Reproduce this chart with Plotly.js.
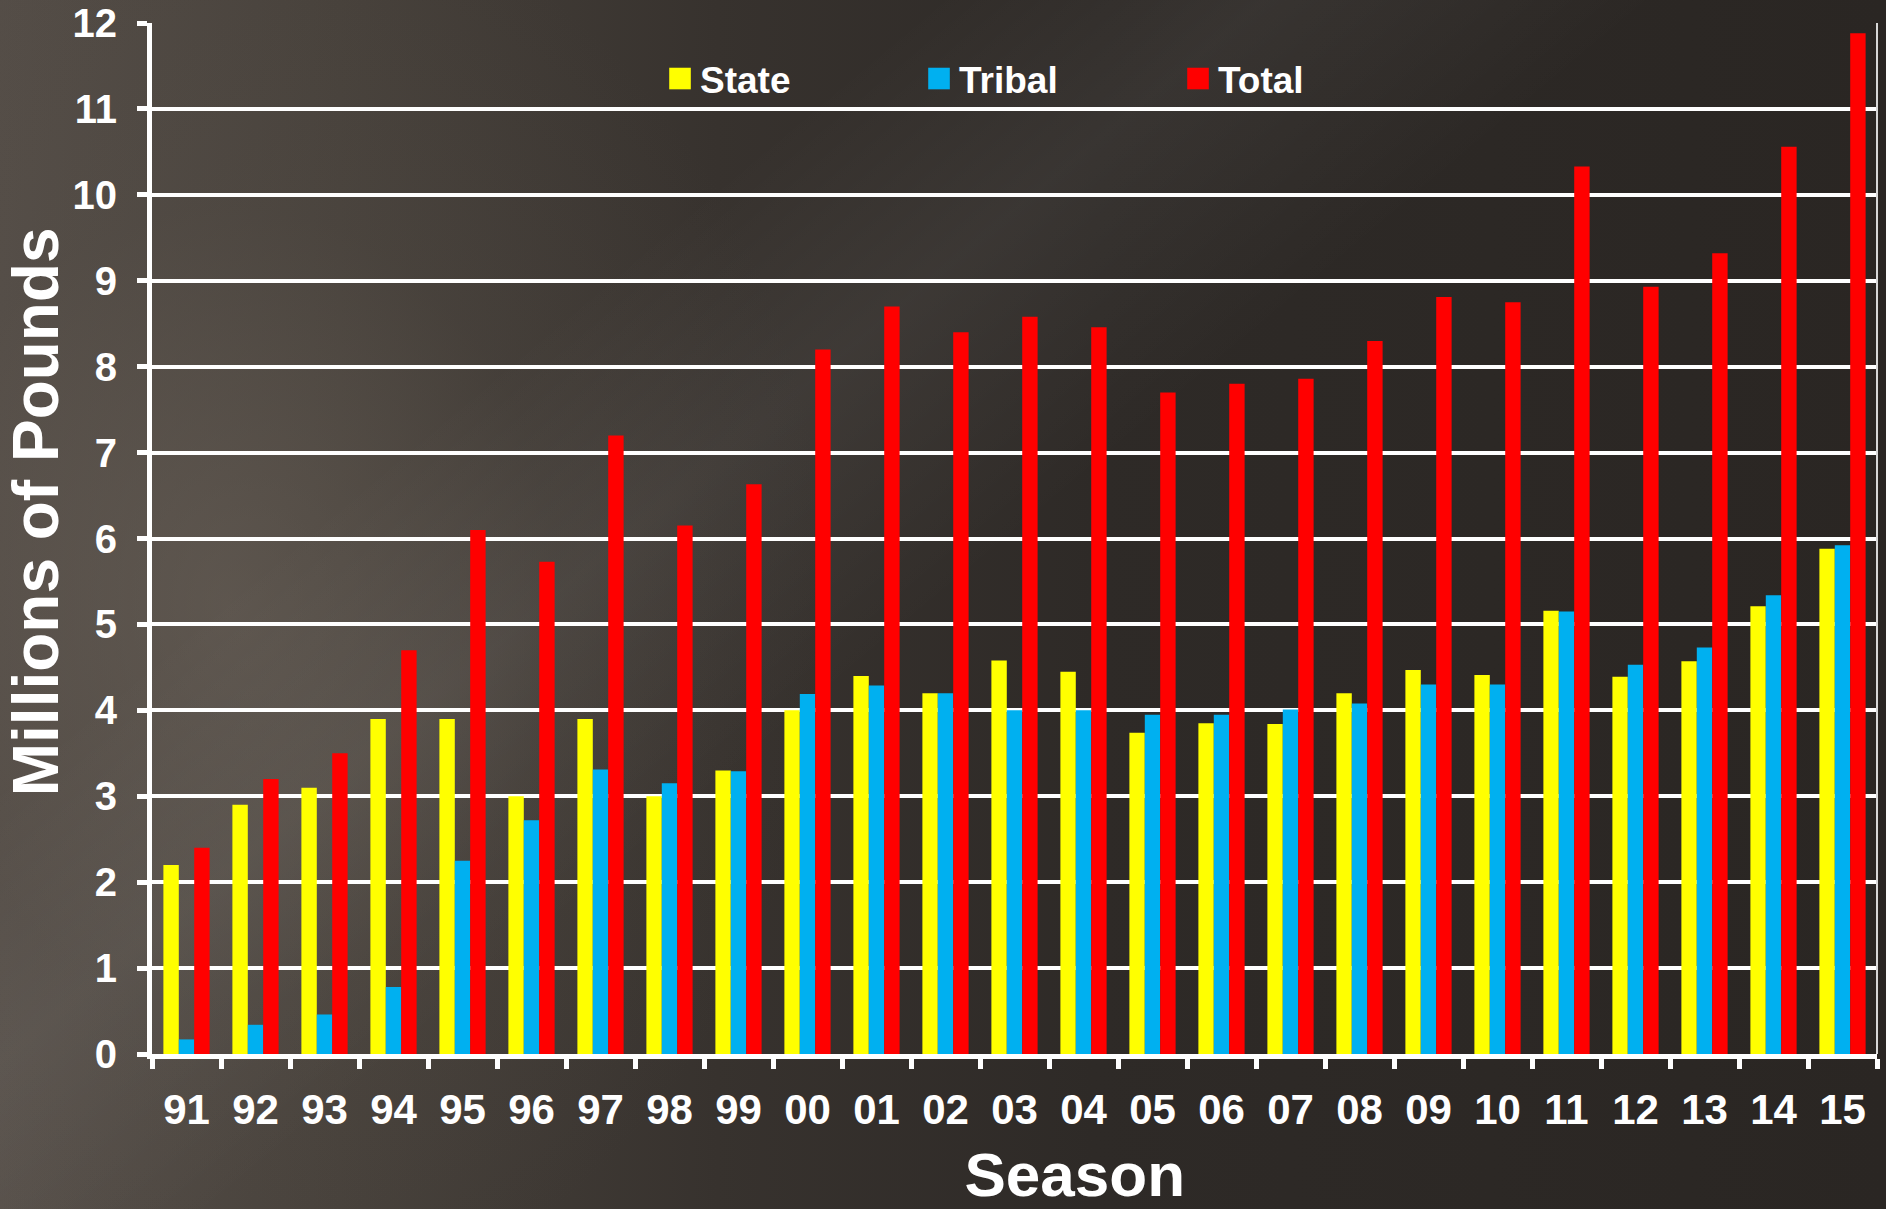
<!DOCTYPE html>
<html>
<head>
<meta charset="utf-8">
<script src="https://cdn.plot.ly/plotly-3.0.1.min.js"></script>
<style>
  html, body { margin: 0; padding: 0; }
  body {
    width: 1886px; height: 1209px; overflow: hidden;
    background-color: #2a2622;
    background-image:
      linear-gradient(140deg, rgba(255,255,255,0) 28%, rgba(255,255,255,0.05) 38%, rgba(255,255,255,0) 50%),
      radial-gradient(ellipse 32% 60% at 12% 50%, rgba(115,106,97,0.45) 0%, rgba(90,83,76,0.18) 55%, rgba(0,0,0,0) 100%),
      linear-gradient(90deg, #544d47 0%, #47413b 18%, #37322e 38%, #2e2a27 58%, #2a2623 100%);
  }
  #chart { width: 1886px; height: 1209px; }
</style>
</head>
<body>
<div id="chart"></div>
<script>
// Season labels (x categories)
var seasons = ['91','92','93','94','95','96','97','98','99','00','01','02','03','04','05','06','07','08','09','10','11','12','13','14','15'];

// Millions of pounds
var stateVals  = [2.2, 2.9, 3.1, 3.9, 3.9, 3.0, 3.9, 3.0, 3.3, 4.0, 4.4, 4.2, 4.58, 4.45, 3.74, 3.85, 3.84, 4.2, 4.47, 4.41, 5.16, 4.39, 4.57, 5.21, 5.88];
var tribalVals = [0.17, 0.34, 0.46, 0.78, 2.25, 2.72, 3.31, 3.15, 3.29, 4.19, 4.29, 4.2, 4.0, 4.0, 3.95, 3.95, 4.01, 4.08, 4.3, 4.3, 5.15, 4.53, 4.73, 5.34, 5.92];
var totalVals  = [2.4, 3.2, 3.5, 4.7, 6.1, 5.73, 7.2, 6.15, 6.63, 8.2, 8.7, 8.4, 8.58, 8.46, 7.7, 7.8, 7.86, 8.3, 8.81, 8.75, 10.33, 8.93, 9.32, 10.56, 11.88];

var yTickVals = [0,1,2,3,4,5,6,7,8,9,10,11,12];

var FONT = 'Arial, "Liberation Sans", Helvetica, sans-serif';

var data = [
  { type: 'bar', name: 'State',  x: seasons, y: stateVals,  marker: { color: '#FFFF00', line: { width: 0 } } },
  { type: 'bar', name: 'Tribal', x: seasons, y: tribalVals, marker: { color: '#00B0F0', line: { width: 0 } } },
  { type: 'bar', name: 'Total',  x: seasons, y: totalVals,  marker: { color: '#FF0000', line: { width: 0 } } }
];

var layout = {
  width: 1886, height: 1209,
  paper_bgcolor: 'rgba(0,0,0,0)',
  plot_bgcolor: 'rgba(0,0,0,0)',
  margin: { l: 152, r: 9, t: 23, b: 155, pad: 0 },
  barmode: 'group',
  bargap: 0.33,
  bargroupgap: 0,
  font: { family: FONT, color: '#FFFFFF', weight: 'bold' },
  showlegend: true,
  legend: {
    orientation: 'h',
    x: 0.2945, xanchor: 'left',
    y: 0.9457, yanchor: 'middle',
    bgcolor: 'rgba(0,0,0,0)',
    borderwidth: 0,
    entrywidth: 214,
    entrywidthmode: 'pixels',
    traceorder: 'normal',
    font: { family: FONT, size: 37, color: '#FFFFFF', weight: 'bold' }
  },
  xaxis: {
    type: 'category',
    showline: true, linecolor: '#FFFFFF', linewidth: 5,
    ticks: 'outside', tickson: 'boundaries', ticklen: 10, tickwidth: 5, tickcolor: '#FFFFFF',
    showgrid: false, zeroline: false,
    ticklabelstandoff: 15,
    tickfont: { family: FONT, size: 42, color: '#FFFFFF', weight: 'bold' },
    title: {
      text: '\u200b\u00a0\u00a0\u00a0\u00a0\u00a0\u00a0\u00a0Season',
      standoff: 29,
      font: { family: FONT, size: 62, color: '#FFFFFF', weight: 'bold' }
    }
  },
  yaxis: {
    range: [0, 12],
    tickmode: 'array', tickvals: yTickVals, ticktext: yTickVals.map(String),
    showline: true, linecolor: '#FFFFFF', linewidth: 5,
    ticks: 'outside', ticklen: 10, tickwidth: 5, tickcolor: '#FFFFFF',
    showgrid: true, gridcolor: '#FFFFFF', gridwidth: 4,
    zeroline: false,
    ticklabelstandoff: 12,
    tickfont: { family: FONT, size: 40, color: '#FFFFFF', weight: 'bold' },
    title: {
      text: '\u200b\u00a0\u00a0\u00a0Millions of Pounds',
      standoff: 0,
      font: { family: FONT, size: 64, color: '#FFFFFF', weight: 'bold' }
    }
  },
  shapes: [
    { type: 'line', xref: 'paper', yref: 'paper', x0: 1, x1: 1, y0: 0, y1: 1,
      line: { color: '#D8D8D8', width: 2 } }
  ]
};

function enlargeLegendSymbols() {
  document.querySelectorAll('.legend .legendpoints path').forEach(function (p) {
    if (p.getAttribute('data-scaled')) return;
    var t = p.getAttribute('transform') || '';
    p.setAttribute('transform', t + ' scale(1.8)');
    p.setAttribute('data-scaled', '1');
  });
}

Plotly.newPlot('chart', data, layout, { displayModeBar: false }).then(function () {
  enlargeLegendSymbols();
  setTimeout(enlargeLegendSymbols, 200);
});
</script>
</body>
</html>
